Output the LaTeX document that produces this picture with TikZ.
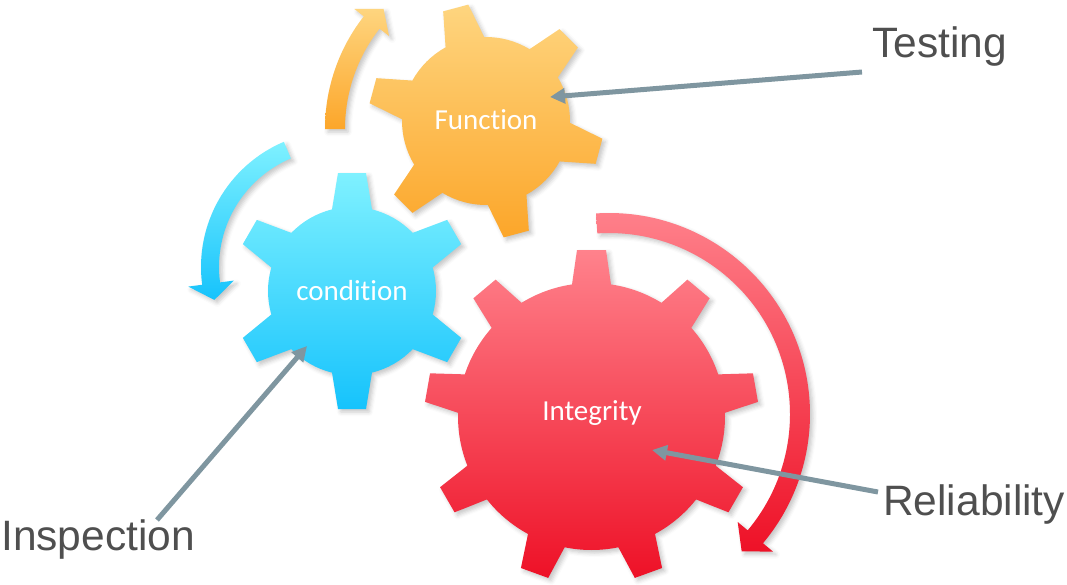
\documentclass[tikz,border=0pt]{standalone}
\usepackage{fontspec}
\setmainfont{Liberation Sans}
\newfontfamily\gearfont[Ligatures=NoCommon]{Carlito}
\usetikzlibrary{arrows.meta,shadows.blur}

\definecolor{orTop}{HTML}{FED57F}
\definecolor{orBot}{HTML}{FCA62A}
\definecolor{blTop}{HTML}{7FF1FF}
\definecolor{blBot}{HTML}{16C3FC}
\definecolor{rdTop}{HTML}{FF828C}
\definecolor{rdBot}{HTML}{EE1127}
\definecolor{ptrGray}{HTML}{7F96A0}
\definecolor{txtGray}{HTML}{4F4F4F}

% gear outline: centre x, centre y, body radius, tip radius, teeth,
% first tooth angle, half base width, half tip width, style
\newcommand\gearwheel[9]{%
  \pgfmathsetmacro\gDb{asin(#7/#3)}%
  \pgfmathsetmacro\gDt{atan(#8/#4)}%
  \pgfmathsetmacro\gRt{veclen(#4,#8)}%
  \pgfmathsetmacro\gSt{360/#5}%
  \pgfmathtruncatemacro\gN{#5-1}%
  \shade[#9, shift={(#1,#2)}] ({#6-\gDb}:#3)
    \foreach \k in {0,...,\gN}{
      -- ({#6+\k*\gSt-\gDb}:#3) -- ({#6+\k*\gSt-\gDt}:\gRt)
      -- ({#6+\k*\gSt+\gDt}:\gRt) -- ({#6+\k*\gSt+\gDb}:#3)
      arc[start angle={#6+\k*\gSt+\gDb}, end angle={#6+(\k+1)*\gSt-\gDb}, radius=#3]
    } -- cycle;
}

% curved band with a wide head: centre x, centre y, radius, band width,
% start angle, end angle, half head width, tip angle, style
\newcommand\bentarrow[9]{%
  \pgfmathsetmacro\aO{#3+#4/2}%
  \pgfmathsetmacro\aI{#3-#4/2}%
  \pgfmathsetmacro\hO{#3+#7}%
  \pgfmathsetmacro\hI{#3-#7}%
  \shade[#9, shift={(#1,#2)}] (#5:\aO)
    arc[start angle=#5, end angle=#6, radius=\aO]
    -- (#6:\hO) -- (#8:#3) -- (#6:\hI) -- (#6:\aI)
    arc[start angle=#6, end angle=#5, radius=\aI] -- cycle;
}

\tikzset{
  soft/.style={blur shadow={shadow xshift=3pt, shadow yshift=-3pt,
      shadow blur radius=4pt, shadow opacity=22}},
  orangefill/.style={soft, top color=orTop, bottom color=orBot},
  bluefill/.style={soft, top color=blTop, bottom color=blBot},
  redfill/.style={soft, top color=rdTop, bottom color=rdBot},
  gearlabel/.style={text=white, font=\gearfont\fontsize{29}{34}\selectfont,
      inner sep=0pt, anchor=base},
  sidelabel/.style={text=txtGray, font=\fontsize{42.5}{50}\selectfont,
      inner sep=0pt, anchor=base west},
  pointer/.style={draw=ptrGray, line width=5pt,
      -{Triangle[length=15pt,width=15pt]}},
}

\begin{document}
\begin{tikzpicture}[x=1pt,y=1pt]
\useasboundingbox (0,0) rectangle (1067,-584);

% rotation arrows
\bentarrow{508}{-129}{173}{20}{180}{142}{22}{136}{orangefill}
\bentarrow{337}{-267}{127}{18}{113}{187.5}{23}{195}{bluefill}
\bentarrow{609}{-414}{191}{20}{93.7}{-40}{23}{-46}{redfill}

% gears
\gearwheel{486}{-121}{84}{117}{6}{45}{20}{13}{orangefill}
\gearwheel{352}{-291}{84}{118}{6}{30}{20}{14}{bluefill}
\gearwheel{591.5}{-416.5}{133.5}{166.5}{9}{90}{19.5}{14.5}{redfill}

% gear names
\node[gearlabel] (function) at (486,-129.5) {Function};
\node[gearlabel] (condition) at (352,-300) {condition};
\node[gearlabel] (integrity) at (592,-420) {Integrity};

% side labels
\node[sidelabel] (testing) at (872,-57) {Testing};
\node[sidelabel] (inspection) at (1,-550) {Inspection};
\node[sidelabel] (reliability) at (883,-515) {Reliability};

% pointers
\coordinate (testFrom) at (862,-72);
\coordinate (testTo) at (550,-97);
\coordinate (inspFrom) at (157,-520);
\coordinate (inspTo) at (307,-346);
\coordinate (relFrom) at (878,-492);
\coordinate (relTo) at (652,-450);
\draw[pointer] (testFrom) -- (testTo);
\draw[pointer] (inspFrom) -- (inspTo);
\draw[pointer] (relFrom) -- (relTo);
\end{tikzpicture}
\end{document}
